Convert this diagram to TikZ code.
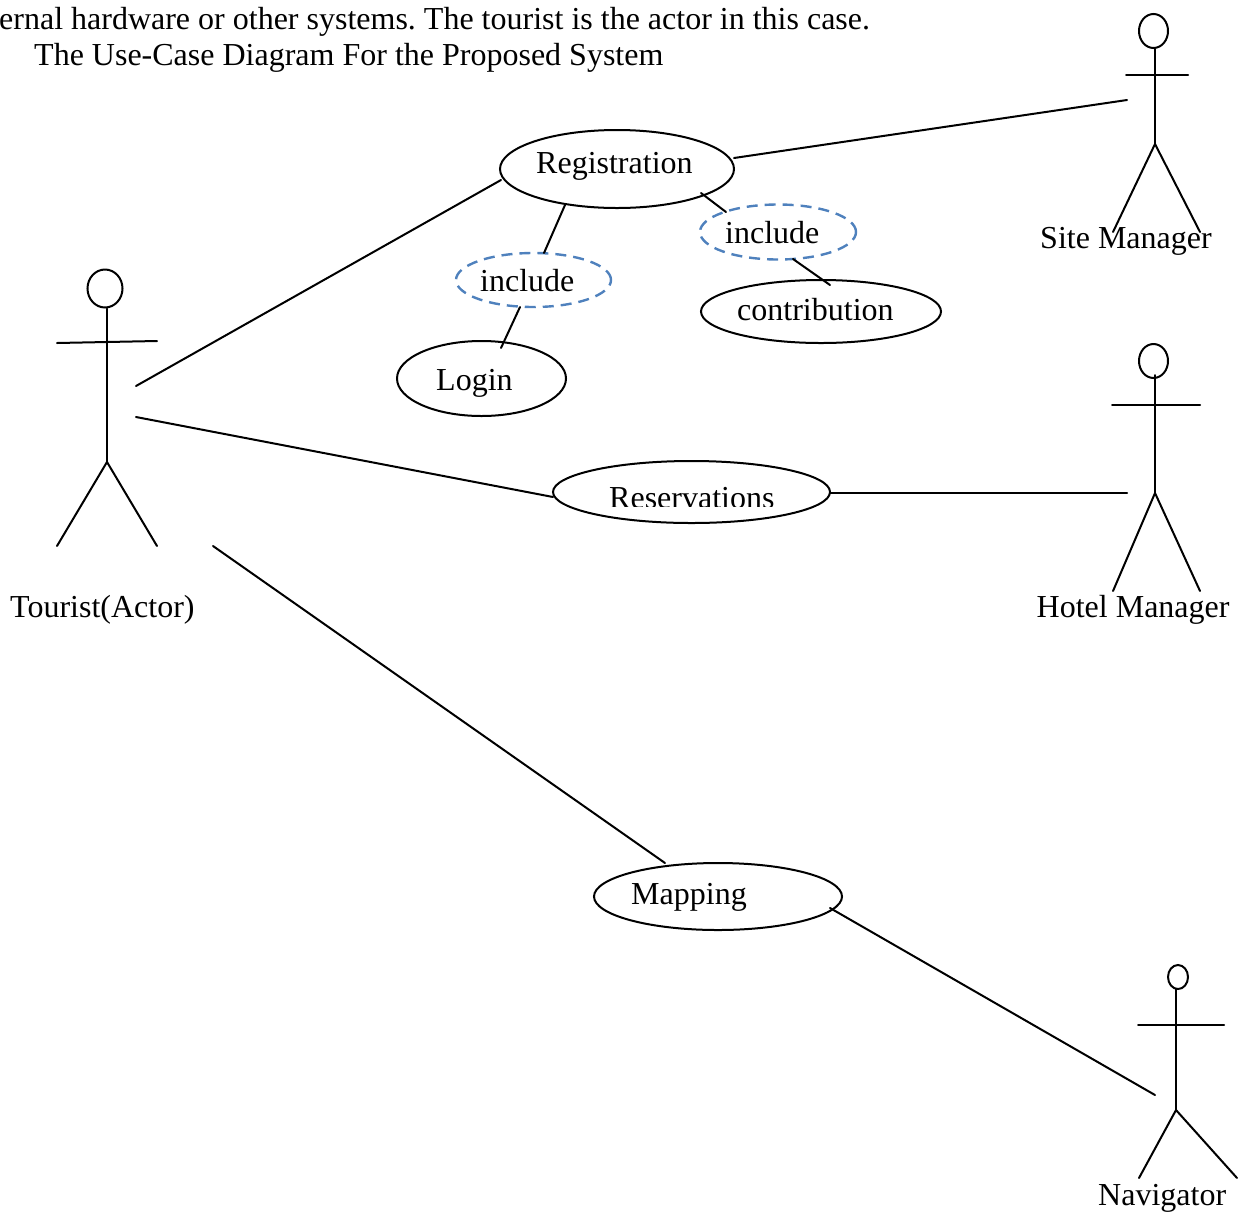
\documentclass[tikz,border=0pt]{standalone}
\usepackage{fontspec}
\setmainfont{Liberation Serif}
\usetikzlibrary{shapes.geometric}
\tikzset{
  usecase/.style={draw=black,line width=2pt,ellipse,inner sep=0pt},
  incl/.style={draw=incblue,line width=2.4pt,ellipse,inner sep=0pt,dash pattern=on 11pt off 7pt},
  head/.style={draw=black,line width=2pt,ellipse,inner sep=0pt},
  lbl/.style={anchor=base west,inner sep=0pt,font=\fontsize{32}{38}\selectfont},
  wire/.style={draw=black,line width=2pt,line cap=round},
}
\definecolor{incblue}{RGB}{79,129,189}
\begin{document}
\begin{tikzpicture}[x=1pt,y=-1pt]
\useasboundingbox (0,0) rectangle (1239,1211);
\begin{scope}
\clip (0,0) rectangle (1239,1211);
\node[lbl] (t1) at (-1,29) {\frenchspacing ernal hardware or other systems. The tourist is the actor in this case.};
\node[lbl] (t2) at (34,65) {The Use-Case Diagram For the Proposed System};
\end{scope}
% use cases
\node[usecase,minimum width=234pt,minimum height=78pt] (reg) at (617,169) {};
\node[incl,minimum width=156pt,minimum height=55pt] (incR) at (778,232) {};
\node[incl,minimum width=155pt,minimum height=54pt] (incL) at (533.5,280) {};
\node[usecase,minimum width=240pt,minimum height=63pt] (con) at (821,311.5) {};
\node[usecase,minimum width=169pt,minimum height=75pt] (log) at (481.5,378.5) {};
\node[usecase,minimum width=277pt,minimum height=62pt] (res) at (691.5,492) {};
\node[usecase,minimum width=248pt,minimum height=67pt] (map) at (718,896.5) {};
\node[lbl] (regT) at (536,173) {Registration};
\node[lbl] (incRT) at (725,243) {include};
\node[lbl] (incLT) at (480,291) {include};
\node[lbl] (conT) at (737,320) {contribution};
\node[lbl] (logT) at (436,390) {Login};
\begin{scope}
\clip (553,461) rectangle (830,506.5);
\node[lbl] (resT) at (609,508.5) {Reservations};
\end{scope}
\node[lbl] (mapT) at (631,904) {Mapping};
% tourist
\node[head,minimum width=35pt,minimum height=38pt] (hT) at (105,288.5) {};
\coordinate (hipT) at (107,462);
\draw[wire] (hT.south -| hipT) -- (hipT);
\draw[wire] (57,343) -- (157,341);
\draw[wire] (57,546) -- (hipT) -- (157,546);
\node[lbl] (lT) at (10,617) {Tourist(Actor)};
% site manager
\node[head,minimum width=29pt,minimum height=34pt] (hS) at (1153.5,31) {};
\coordinate (hipS) at (1155,144);
\draw[wire] (hS.south -| hipS) -- (hipS);
\draw[wire] (1126,75) -- (1188,75);
\draw[wire] (1113,232) -- (hipS) -- (1200,232);
\node[lbl] (lS) at (1040,248.5) {Site Manager};
% hotel manager
\node[head,minimum width=29pt,minimum height=34pt] (hH) at (1153.5,361) {};
\coordinate (hipH) at (1155,493);
\draw[wire] (1155,375) -- (hipH);
\draw[wire] (1112,405) -- (1200,405);
\draw[wire] (1113,591) -- (hipH) -- (1200,591);
\node[lbl] (lH) at (1036.5,617) {Hotel Manager};
% navigator
\node[head,minimum width=20pt,minimum height=24pt] (hN) at (1178,977) {};
\coordinate (hipN) at (1176,1110);
\draw[wire] (1176,989) -- (hipN);
\draw[wire] (1138,1025) -- (1224,1025);
\draw[wire] (1139,1178) -- (hipN) -- (1237,1178);
\node[lbl] (lN) at (1098,1205.5) {Navigator};
% connector free ends
\coordinate (aT1) at (136,386);
\coordinate (aT2) at (136,417);
\coordinate (aT3) at (213,546);
\coordinate (aS) at (1127,100);
\coordinate (aH) at (1127,493);
\coordinate (aN) at (1155,1095);
\coordinate (regA) at (701,193);
\coordinate (incRA) at (726,212);
\coordinate (incRB) at (793,259);
\coordinate (conA) at (830,285);
\coordinate (incLB) at (520,307);
\coordinate (logA) at (501,348);
\coordinate (regB) at (565,205);
\coordinate (incLA) at (544,253);
\coordinate (regC) at (501,180);
\coordinate (regD) at (734,158);
\coordinate (resA) at (553,497);
\coordinate (resB) at (830,493);
\coordinate (mapA) at (665,863);
\coordinate (mapB) at (830,908);
% connectors
\draw[wire] (aT1) -- (regC);
\draw[wire] (regD) -- (aS);
\draw[wire] (aT2) -- (resA);
\draw[wire] (resB) -- (aH);
\draw[wire] (aT3) -- (mapA);
\draw[wire] (mapB) -- (aN);
\draw[wire] (regB) -- (incLA);
\draw[wire] (incLB) -- (logA);
\draw[wire] (regA) -- (incRA);
\draw[wire] (incRB) -- (conA);
\end{tikzpicture}
\end{document}
